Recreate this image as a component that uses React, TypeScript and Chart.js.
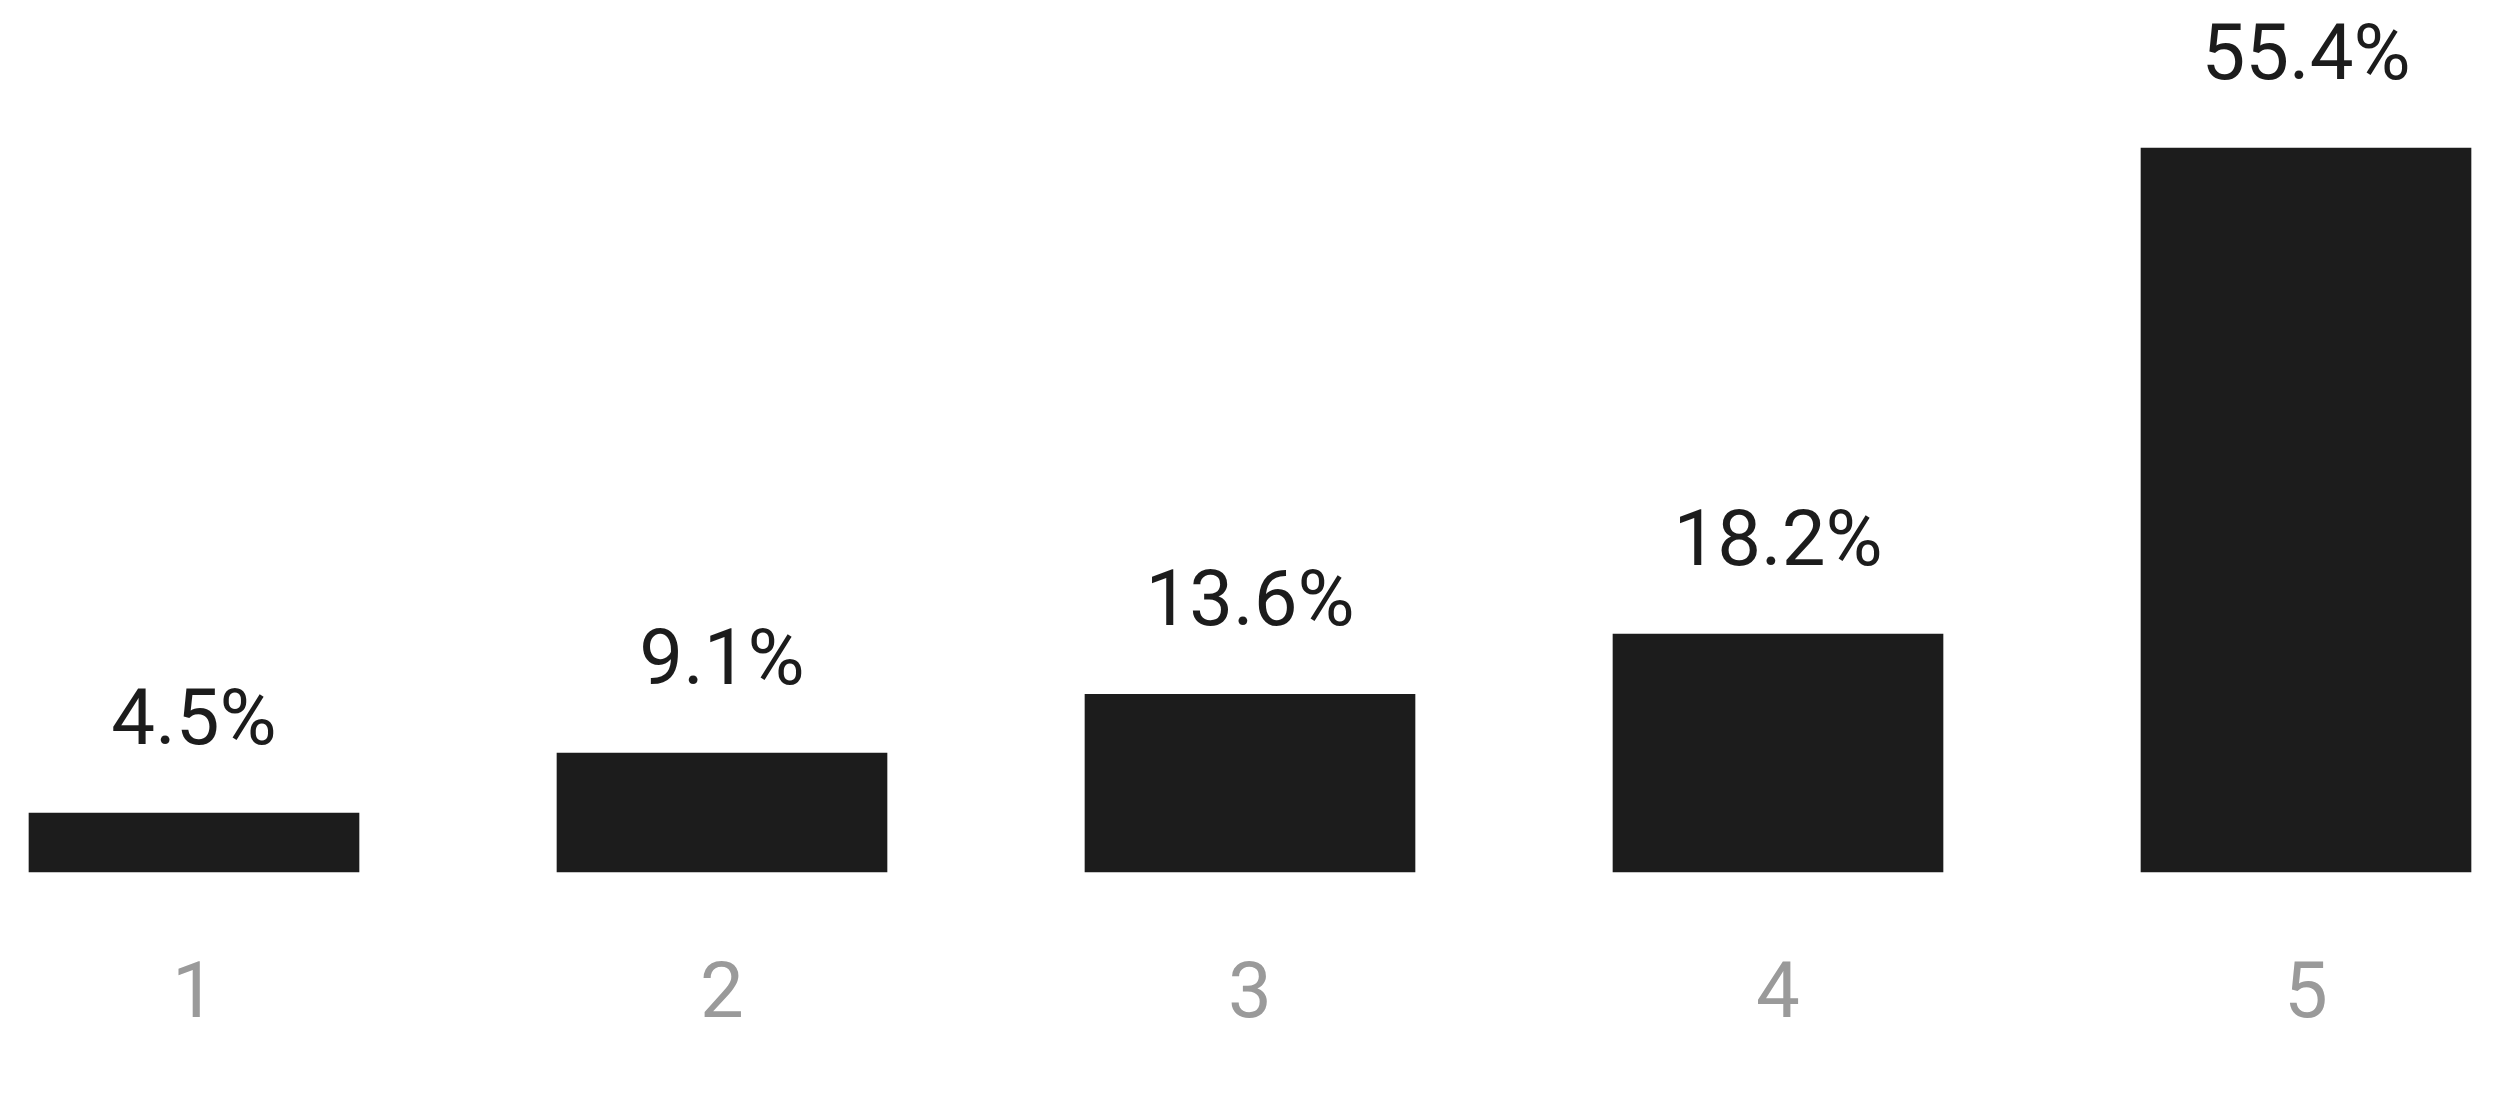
import React, { useEffect, useRef } from "react";
import { Chart, registerables } from "chart.js";

Chart.register(...registerables);

const categories = ["1", "2", "3", "4", "5"];
const values = [4.5, 9.1, 13.6, 18.2, 55.4];
const valueLabels = ["4.5%", "9.1%", "13.6%", "18.2%", "55.4%"];

const FONT = "Roboto";
const FONT_SIZE = 78;

const valueLabelPlugin = {
  id: "valueLabels",
  afterDatasetsDraw(chart: any) {
    const ctx = chart.ctx;
    const meta = chart.getDatasetMeta(0);
    ctx.save();
    ctx.font = `400 ${FONT_SIZE}px ${FONT}`;
    ctx.fillStyle = "#1c1c1c";
    ctx.textAlign = "center";
    ctx.textBaseline = "alphabetic";
    meta.data.forEach((bar: any, i: number) => {
      ctx.fillText(valueLabels[i], bar.x, bar.y - 69);
    });
    ctx.restore();
  },
};

export default function App() {
  const ref = useRef<HTMLCanvasElement | null>(null);
  useEffect(() => {
    document.body.style.margin = "0";
    const canvas = ref.current!;
    const chart = new Chart(canvas, {
      type: "bar",
      data: {
        labels: categories,
        datasets: [
          {
            data: values,
            backgroundColor: "#1c1c1c",
            borderWidth: 0,
            barThickness: 330,
            clip: false as any,
          },
        ],
      },
      options: {
        animation: false,
        responsive: false,
        devicePixelRatio: 1,
        layout: { padding: { left: 194, right: 194, top: 148, bottom: 66 } },
        plugins: {
          legend: { display: false },
          tooltip: { enabled: false },
          title: { display: false },
        },
        scales: {
          x: {
            type: "category",
            offset: false,
            grid: { display: false, drawTicks: false },
            border: { display: false },
            afterFit: (s: any) => {
              s.height = 168;
            },
            ticks: {
              color: "#9a9a9a",
              font: { family: FONT, size: FONT_SIZE, weight: "400" as any },
              padding: 83,
              maxRotation: 0,
              autoSkip: false,
            },
          },
          y: {
            display: false,
            min: 0.3,
            max: 55.4,
          },
        },
      },
      plugins: [valueLabelPlugin],
    });
    return () => chart.destroy();
  }, []);
  return (
    <div style={{ position: "absolute", left: 0, top: 0, width: 2500, height: 1102, background: "#ffffff" }}>
      <canvas ref={ref} width={2500} height={1102} style={{ width: 2500, height: 1102, display: "block" }} />
    </div>
  );
}
